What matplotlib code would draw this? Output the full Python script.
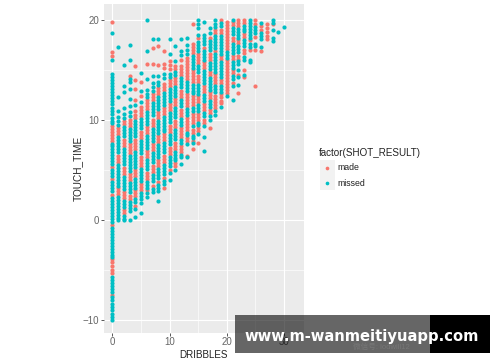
# Program name: plot.py
# Scatter of touch time against dribbles, coloured by shot result

import matplotlib
matplotlib.use('Agg')
import matplotlib.pyplot as plt
from matplotlib.patches import Rectangle

plt.rcParams['font.family'] = ['Liberation Sans', 'Noto Sans CJK SC', 'DejaVu Sans']

x_ticks = [0, 10, 20, 30]
y_ticks = [-10, 0, 10, 20]
legend_title = 'factor(SHOT_RESULT)'
legend_labels = ['made', 'missed']
watermark = 'www.m-wanmeitiyuapp.com'
watermark_under = '微信号: lodwill12'

# touch times, one list per dribble count
made_0 = [19.8, 16.8, 16.4, 9.4, 9.1, 8.8, 8.5, 8.2, 7.9, 5.3, 4.1, 2.5, -0.5, -3.9, -4.2, -4.6, -5.0, -5.3, -7.5]
missed_0 = [18.7, 16.0, 14.6, 14.3, 14.0, 13.7, 13.4, 13.1, 12.8, 12.5, 12.2, 11.9, 11.6, 11.2, 10.9, 10.6, 10.2, 9.9,
            9.7, 7.6, 7.4, 7.1, 6.8, 6.5, 6.2, 5.9, 5.6, 5.0, 4.7, 4.4, 3.8, 3.5, 3.2, 2.9, 2.2, 1.9, 1.6, 1.3, 1.0, 0.7,
            0.4, 0.1, -0.2, -0.8, -1.1, -1.4, -1.7, -2.0, -2.3, -2.6, -2.9, -3.2, -3.5, -3.7, -5.7, -6.0, -6.3, -6.6,
            -6.9, -7.2, -7.7, -8.0, -8.4, -8.7, -9.0, -9.4, -9.7, -10.0]
made_1 = [9.2, 8.9, 8.6, 6.4, 6.1, 5.8, 3.2, 2.9, 2.6]
missed_1 = [17.3, 12.3, 10.9, 10.3, 9.9, 9.5, 8.3, 8.0, 7.7, 7.4, 7.1, 6.8, 5.5, 5.2, 4.9, 4.6, 4.3, 4.0, 3.7, 3.4,
            2.3, 2.0, 1.7, 1.4, 1.1, 0.8, 0.5, 0.2, 0.0]
made_2 = [9.9, 9.6, 8.0, 7.7, 7.4, 5.2, 4.9, 4.6, 2.8, 2.5, 2.2, 1.0, 0.7]
missed_2 = [15.5, 13.4, 12.8, 11.2, 10.6, 10.2, 9.3, 9.0, 8.7, 8.4, 7.1, 6.8, 6.5, 6.2, 5.9, 5.6, 4.3, 4.0, 3.7, 3.4,
            3.1, 1.9, 1.6, 1.3, 0.4, 0.1, 0.0]
made_3 = [14.4, 10.0, 9.7, 9.4, 7.6, 7.3, 7.0, 6.7, 4.6, 4.3, 4.0, 2.4, 2.1]
missed_3 = [17.5, 16.0, 14.1, 13.8, 13.1, 12.1, 11.4, 10.8, 10.4, 9.1, 8.8, 8.5, 8.2, 7.9, 6.4, 6.1, 5.8, 5.5, 5.2, 4.9,
            3.7, 3.4, 3.1, 2.8, 1.8, 1.5, 1.2, 0.9, 0.0]
made_4 = [15.4, 14.0, 13.1, 12.0, 10.9, 10.5, 10.2, 8.0, 7.7, 7.4, 7.1, 5.0, 4.7, 4.4, 3.0, 2.7, 2.4, 1.4]
missed_4 = [11.5, 9.9, 9.6, 9.3, 9.0, 8.7, 8.4, 6.8, 6.5, 6.2, 5.9, 5.6, 5.3, 4.1, 3.8, 3.5, 3.2, 2.1, 1.8, 1.1, 0.3]
made_5 = [13.8, 12.4, 11.3, 11.0, 10.7, 10.4, 8.8, 8.5, 8.2, 6.3, 6.0, 5.7, 5.4, 3.6, 3.3, 3.0]
missed_5 = [14.7, 12.9, 11.8, 10.1, 9.8, 9.5, 9.2, 7.9, 7.6, 7.3, 7.0, 6.7, 5.1, 4.8, 4.5, 4.2, 3.9, 2.7, 2.4, 2.1, 1.7, 0.7]
made_6 = [15.6, 12.0, 11.7, 11.4, 11.1, 9.3, 9.0, 8.7, 6.9, 6.6, 6.3, 4.7, 4.4, 4.1, 3.0]
missed_6 = [20.0, 16.9, 14.1, 13.0, 12.6, 12.3, 10.8, 10.5, 10.2, 9.9, 9.6, 8.4, 8.1, 7.8, 7.5, 7.2, 6.0, 5.7, 5.4, 5.1,
            3.8, 3.5, 3.2, 2.7, 2.3]
made_7 = [17.2, 15.6, 12.6, 12.3, 12.0, 10.0, 9.7, 9.4, 7.6, 7.3, 7.0, 5.4, 5.1, 4.8, 3.4]
missed_7 = [18.1, 14.4, 13.7, 13.3, 12.9, 11.7, 11.4, 11.1, 10.8, 10.5, 9.1, 8.8, 8.5, 8.2, 7.9, 6.7, 6.4, 6.1, 5.8,
            4.5, 4.2, 3.9, 3.1, 2.8]
made_8 = [17.4, 15.5, 13.2, 12.9, 12.6, 10.8, 10.5, 10.2, 8.4, 8.1, 7.8, 6.0, 5.7, 5.4, 3.8]
missed_8 = [18.1, 14.4, 13.8, 13.5, 12.3, 12.0, 11.7, 11.4, 11.1, 9.9, 9.6, 9.3, 9.0, 8.7, 7.5, 7.2, 6.9, 6.6, 6.3,
            5.1, 4.8, 4.5, 4.2, 3.5, 3.2, 2.9, 1.9]
made_9 = [16.9, 15.6, 15.2, 13.6, 13.3, 13.0, 11.2, 10.9, 10.6, 8.6, 8.3, 8.0, 6.4, 6.1, 5.8, 4.2, 3.2]
missed_9 = [14.6, 14.2, 12.7, 12.4, 12.1, 11.8, 11.5, 10.3, 10.0, 9.7, 9.4, 9.1, 8.9, 7.7, 7.4, 7.1, 6.8, 5.5, 5.2, 4.9,
            4.6, 3.9, 3.6]
made_10 = [15.9, 15.5, 15.1, 14.0, 13.7, 13.4, 11.6, 11.3, 11.0, 9.4, 9.1, 8.8, 7.2, 6.9, 6.6, 5.0]
missed_10 = [18.1, 16.6, 14.6, 14.3, 13.1, 12.8, 12.5, 12.2, 11.9, 10.7, 10.4, 10.1, 9.8, 8.5, 8.2, 7.9, 7.6, 6.3, 6.0,
             5.7, 5.4, 4.7, 4.0]
made_11 = [15.4, 15.1, 14.2, 13.9, 13.6, 12.1, 11.8, 11.5, 9.9, 9.6, 9.3, 7.7, 7.4, 7.1, 5.7, 5.4]
missed_11 = [17.4, 15.9, 14.8, 14.5, 13.3, 13.0, 12.7, 12.4, 11.2, 10.9, 10.6, 10.3, 9.0, 8.7, 8.4, 8.1, 6.8, 6.5, 6.2,
             6.0, 5.0]
made_12 = [16.0, 15.4, 15.1, 14.8, 14.5, 12.9, 12.6, 12.3, 11.0, 10.7, 10.4, 9.2, 8.9, 8.6, 8.3, 7.4, 7.1, 6.8]
missed_12 = [18.1, 16.9, 16.5, 14.2, 13.9, 13.6, 13.3, 12.0, 11.7, 11.4, 10.1, 9.8, 9.5, 8.0, 7.7, 6.5, 6.3, 5.6]
made_13 = [16.2, 15.9, 15.6, 15.3, 15.0, 14.7, 14.4, 14.1, 12.6, 12.3, 12.0, 11.7, 11.4, 10.2, 9.9, 9.6, 9.3, 9.0, 8.2,
           7.9, 6.4]
missed_13 = [18.2, 17.5, 17.0, 16.6, 13.8, 13.5, 13.2, 12.9, 11.1, 10.8, 10.5, 8.7, 8.5, 7.65, 6.3]
made_14 = [19.6, 17.6, 17.3, 17.0, 16.7, 15.0, 14.7, 14.4, 14.1, 13.8, 12.4, 12.1, 11.8, 11.5, 10.6, 10.3, 10.0, 9.7,
           9.0, 8.7, 7.9, 7.1]
missed_14 = [16.4, 16.1, 15.8, 15.5, 15.2, 13.5, 13.2, 12.9, 12.7, 11.2, 10.9, 9.4, 8.4, 8.2, 7.7]
made_15 = [18.2, 16.6, 16.3, 16.0, 15.7, 14.4, 14.1, 13.8, 12.4, 12.1, 11.8, 10.6, 10.3, 10.0, 9.2, 8.9, 7.7]
missed_15 = [20.0, 19.6, 19.2, 18.5, 17.8, 17.5, 17.2, 16.9, 15.4, 15.1, 14.8, 13.5, 13.2, 12.9, 12.6, 11.5, 11.2, 10.9,
             9.7, 9.5, 8.6]
made_16 = [17.2, 15.8, 15.5, 15.2, 13.4, 13.1, 12.8, 11.6, 11.3, 11.0, 10.0, 9.7]
missed_16 = [19.8, 18.5, 18.2, 17.9, 17.6, 16.9, 16.6, 16.3, 16.0, 14.9, 14.6, 14.3, 14.0, 13.7, 12.5, 12.2, 11.9, 10.7,
             10.4, 9.4, 8.3, 6.9]
made_17 = [18.2, 16.6, 16.3, 16.0, 14.8, 14.5, 12.8, 12.5, 12.2, 11.0, 10.7, 9.2]
missed_17 = [19.2, 18.7, 17.9, 17.6, 17.3, 17.0, 15.7, 15.4, 15.1, 14.2, 13.9, 13.6, 13.3, 13.0, 11.9, 11.6, 11.3, 10.4,
             10.0]
made_18 = [19.0, 18.7, 16.9, 14.6, 14.3, 14.0, 13.7, 12.4, 12.1, 11.8, 11.5, 11.2]
missed_18 = [20.0, 19.6, 19.3, 18.4, 18.1, 17.8, 17.5, 17.2, 16.6, 16.3, 16.0, 15.7, 15.4, 15.1, 14.8, 13.4, 13.1, 12.8,
             10.9, 10.5]
made_19 = [20.0, 19.0, 18.7, 16.4, 16.1, 14.0, 13.7, 12.6, 12.3, 11.9, 11.7]
missed_19 = [19.7, 19.4, 18.4, 18.1, 17.8, 17.5, 17.2, 16.9, 16.6, 15.8, 15.5, 15.2, 14.9, 14.6, 14.3, 13.4, 13.1, 12.8,
             11.3]
made_20 = [19.8, 19.5, 19.2, 18.9, 18.6, 18.3, 18.0, 17.7, 17.4, 17.1, 16.0, 15.7, 15.4, 15.1, 14.8, 14.5, 14.2, 13.9,
           13.6, 13.3, 13.0, 12.7]
missed_20 = [16.8, 16.5, 16.2, 12.4]
made_21 = [19.8, 19.5, 18.2, 17.9, 16.4, 16.1, 15.0, 14.7, 13.7]
missed_21 = [20.0, 19.2, 18.9, 18.6, 17.6, 17.3, 17.0, 16.7, 15.8, 15.5, 15.2, 14.4, 14.1, 13.4, 12.0]
made_22 = [20.0, 19.7, 19.4, 18.0, 17.7, 16.4, 16.1, 14.5, 12.7]
missed_22 = [19.1, 18.8, 18.5, 18.2, 17.4, 17.1, 16.8, 15.9, 15.6, 15.0, 14.3, 13.5]
made_23 = [20.0, 19.7, 18.6, 18.3, 17.0, 16.7, 15.0, 14.3]
missed_23 = [19.4, 19.1, 18.9, 18.0, 17.7, 17.4, 16.3, 16.0, 14.5]
made_24 = [18.0, 17.0]
missed_24 = [20.0, 19.7, 19.4, 19.1, 18.8, 18.5, 18.2, 17.6, 17.3, 16.0, 15.8]
made_25 = [20.0, 19.6, 18.3, 17.0, 13.4]
missed_25 = [19.3, 19.0, 18.7, 17.6, 17.4]
made_26 = [19.4, 19.0, 16.9]
missed_26 = [19.7, 18.7, 18.4, 18.1, 17.3]
made_27 = [19.6, 19.2, 18.8, 18.4, 18.1]
missed_27 = []
made_28 = [19.6]
missed_28 = [20.0, 19.7, 19.0, 18.2, 17.9]
made_29 = []
missed_29 = [18.8]
made_30 = []
missed_30 = [19.3]

dribbles = list(range(31))
made_columns = [made_0, made_1, made_2, made_3, made_4, made_5, made_6, made_7, made_8, made_9, made_10,
                made_11, made_12, made_13, made_14, made_15, made_16, made_17, made_18, made_19, made_20,
                made_21, made_22, made_23, made_24, made_25, made_26, made_27, made_28, made_29, made_30]
missed_columns = [missed_0, missed_1, missed_2, missed_3, missed_4, missed_5, missed_6, missed_7, missed_8, missed_9,
                  missed_10, missed_11, missed_12, missed_13, missed_14, missed_15, missed_16, missed_17, missed_18,
                  missed_19, missed_20, missed_21, missed_22, missed_23, missed_24, missed_25, missed_26, missed_27,
                  missed_28, missed_29, missed_30]

made_color = '#F8766D'
missed_color = '#00BFC4'

fig = plt.figure(figsize=(5, 3.62), dpi=100)
ax = fig.add_axes([103.5 / 500, 1 - 333 / 362, 200 / 500, 329 / 362])
ax.set_facecolor('#EBEBEB')

for d, ys in zip(dribbles, made_columns):
    ax.scatter([d] * len(ys), ys, s=9, color=made_color, linewidths=0, zorder=3)
for d, ys in zip(dribbles, missed_columns):
    ax.scatter([d] * len(ys), ys, s=9, color=missed_color, linewidths=0, zorder=4)

ax.set_xlim(-1.57, 33.4)
ax.set_ylim(-11.35, 21.65)
ax.set_xticks(x_ticks)
ax.set_yticks(y_ticks)
ax.set_xticks([5, 15, 25], minor=True)
ax.set_yticks([-5, 5, 15], minor=True)
ax.grid(which='major', color='white', linewidth=0.85, zorder=1)
ax.grid(which='minor', color='white', linewidth=0.45, zorder=1)
ax.set_axisbelow(True)
for side in ax.spines.values():
    side.set_visible(False)
ax.tick_params(which='major', length=2, width=0.7, color='#555555', labelcolor='#666666', labelsize=7, pad=1)
ax.tick_params(which='minor', length=0)
ax.set_xlabel('DRIBBLES', fontsize=7.1, color='#222222', labelpad=2)
ax.set_ylabel('TOUCH_TIME', fontsize=7.2, color='#222222', labelpad=0)

# overlay in pixel coordinates for the legend and the banner
over = fig.add_axes([0, 0, 1, 1], zorder=10)
over.set_xlim(0, 500)
over.set_ylim(362, 0)
over.axis('off')

over.text(319, 153, legend_title, fontsize=7.1, color='#222222', va='center', ha='left')
for i, (label, col) in enumerate(zip(legend_labels, [made_color, missed_color])):
    top = 160 + i * 15
    over.add_patch(Rectangle((320, top), 14.5, 15, facecolor='#F2F2F2', edgecolor='none'))
    over.scatter([327.2], [top + 7.5], s=7, color=col, linewidths=0)
    over.text(337, top + 8, label, fontsize=6.3, color='#222222', va='center', ha='left')

over.add_patch(Rectangle((235, 315), 195, 38, facecolor='black', alpha=0.6, edgecolor='none'))
over.add_patch(Rectangle((430, 315), 60, 38, facecolor='black', edgecolor='none'))
over.text(353, 347.5, watermark_under, fontsize=5.5, color='#777777', va='center', ha='left')
over.text(362, 336, watermark, fontsize=10.6, color='white', fontweight='bold',
          va='center', ha='center', family='DejaVu Sans')

fig.savefig('out.png', dpi=100)
